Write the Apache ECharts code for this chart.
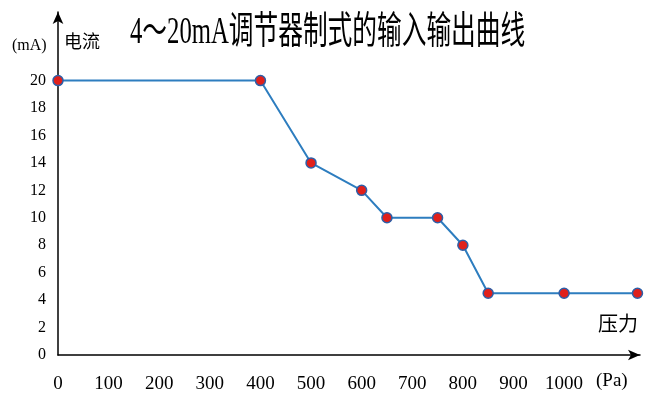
<!DOCTYPE html>
<html><head><meta charset="utf-8">
<script src="https://cdn.jsdelivr.net/npm/echarts@6/dist/echarts.min.js"></script>
<style>html,body{margin:0;padding:0;background:#fff}#c{width:656px;height:410px}</style>
</head><body><div id="c"></div>
<script>
const xValues = [0, 400, 500, 600, 650, 750, 800, 850, 1000, 1145];
const yValues = [20, 20, 14, 12, 10, 10, 8, 4.5, 4.5, 4.5];
const titleText = '4～20mA调节器制式的输入输出曲线';
const chart = echarts.init(document.getElementById('c'));
const serif = '"Liberation Serif", "Noto Sans CJK SC", serif';
chart.setOption({
  animation: false,
  grid: { left: 58, right: 16, top: 12, bottom: 55 },
  xAxis: {
    type: 'value', min: 0, max: 1150, interval: 100,
    axisLine: { lineStyle: { color: '#000', width: 1.5 }, symbol: ['none', 'arrow'], symbolSize: [8, 12] },
    axisTick: { show: false }, splitLine: { show: false },
    axisLabel: { margin: 20, color: '#000', fontFamily: serif, fontSize: 19,
      formatter: v => v > 1000 ? '' : String(v) }
  },
  yAxis: {
    type: 'value', min: 0, max: 25, interval: 2,
    axisLine: { show: true, lineStyle: { color: '#000', width: 1.5 }, symbol: ['none', 'arrow'], symbolSize: [8, 12] },
    axisTick: { show: false }, splitLine: { show: false },
    axisLabel: { margin: 12, color: '#000', fontFamily: serif, fontSize: 16,
      formatter: v => v > 20 ? '' : String(v) }
  },
  graphic: [
    { type: 'text', x: 130, y: 14, scaleX: 0.65, style: { text: titleText, fontFamily: serif, fontSize: 38, fill: '#000' } },
    { type: 'text', left: 12, top: 38, style: { text: '(mA)', fontFamily: serif, fontSize: 16, fill: '#000' } },
    { type: 'text', left: 64, top: 34, style: { text: '电流', fontFamily: serif, fontSize: 18, fill: '#000' } },
    { type: 'text', left: 598, top: 316, style: { text: '压力', fontFamily: serif, fontSize: 20, fill: '#000' } },
    { type: 'text', left: 596, top: 372, style: { text: '(Pa)', fontFamily: serif, fontSize: 19, fill: '#000' } }
  ],
  series: [{
    type: 'line', data: xValues.map((x, i) => [x, yValues[i]]),
    lineStyle: { color: '#2d7dbf', width: 2 },
    symbol: 'circle', symbolSize: 10,
    itemStyle: { color: '#e0201b', borderColor: '#2d5fa8', borderWidth: 1.5 }
  }]
});
</script></body></html>
